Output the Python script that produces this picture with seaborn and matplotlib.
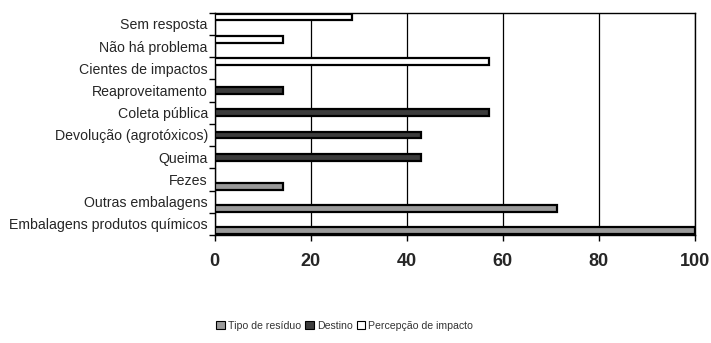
import matplotlib
matplotlib.use("Agg")
import matplotlib.pyplot as plt
import seaborn as sns
import pandas as pd
import numpy as np
from matplotlib.patches import Patch

# categories top -> bottom
categorias = ["Sem resposta", "Não há problema", "Cientes de impactos",
              "Reaproveitamento", "Coleta pública", "Devolução (agrotóxicos)",
              "Queima", "Fezes", "Outras embalagens", "Embalagens produtos químicos"]
grupos = ["Percepção de impacto", "Percepção de impacto", "Percepção de impacto",
          "Destino", "Destino", "Destino", "Destino",
          "Tipo de resíduo", "Tipo de resíduo", "Tipo de resíduo"]
valores = [28.6, 14.3, 57.1, 14.3, 57.1, 42.9, 42.9, 14.3, 71.4, 100.0]

series = ["Tipo de resíduo", "Destino", "Percepção de impacto"]
cores = {"Tipo de resíduo": "#9a9a9a", "Destino": "#3c3c3c", "Percepção de impacto": "#ffffff"}

df = pd.DataFrame({"cat": categorias, "grupo": grupos, "valor": valores})

sns.set_style("white")
plt.rcParams["font.family"] = ["Liberation Sans", "DejaVu Sans"]

fig = plt.figure(figsize=(7.11, 3.43), dpi=100)
ax = fig.add_axes([0.302, 0.315, 0.675, 0.648])

# hue order reversed so that the first series sits at the bottom of each slot
sns.barplot(data=df, x="valor", y="cat", hue="grupo", order=categorias,
            hue_order=series[::-1], palette=cores, orient="h", width=0.92,
            dodge=True, edgecolor="black", linewidth=1.6, ax=ax, legend=False,
            zorder=3)

ax.set_xlim(0, 100)
ax.set_ylim(len(categorias) - 0.5, -0.5)
ax.set_xticks([0, 20, 40, 60, 80, 100])
ax.set_xticklabels([0, 20, 40, 60, 80, 100], fontsize=13, fontweight="bold")
ax.xaxis.grid(True, color="black", linewidth=0.9)
ax.set_axisbelow(True)
for s in ax.spines.values():
    s.set_color("black")
    s.set_linewidth(1.0)

ax.set_yticks(range(len(categorias)))
ax.set_yticklabels(categorias, fontsize=10.2)
ax.set_yticks(np.arange(-0.5, len(categorias), 1), minor=True)
ax.tick_params(axis="y", which="major", length=0, pad=5)
ax.tick_params(axis="y", which="minor", length=4, width=1, color="black", direction="out", left=True)
ax.tick_params(axis="x", length=4, width=1, color="black", direction="out", bottom=True, pad=9)
ax.set_xlabel("")
ax.set_ylabel("")

handles = [Patch(facecolor=cores[s], edgecolor="black", linewidth=0.8) for s in series]
fig.legend(handles, series, loc="center", bbox_to_anchor=(0.485, 0.05), ncol=3,
           frameon=False, fontsize=7.6, handlelength=0.8, handleheight=0.8,
           handletextpad=0.3, columnspacing=0.4, labelcolor="#333333")

fig.savefig("out.png", dpi=100)
